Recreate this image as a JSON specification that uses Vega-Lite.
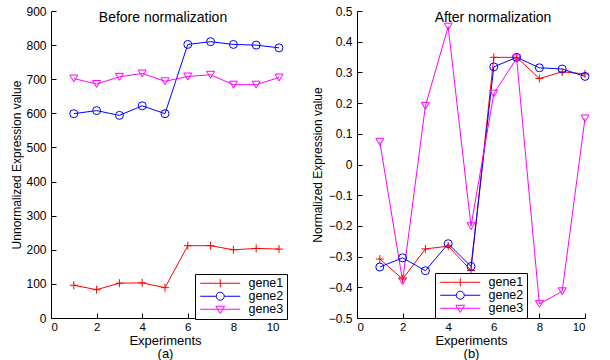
{
  "$schema": "https://vega.github.io/schema/vega-lite/v6.json",
  "background": "white",
  "padding": {"left": 10, "top": 5, "right": 5, "bottom": 0},
  "spacing": 23,
  "config": {
    "font": "Liberation Sans",
    "view": {"stroke": null},
    "axis": {
      "grid": false,
      "domainColor": "black",
      "tickColor": "black",
      "labelColor": "black",
      "titleColor": "black",
      "labelFontSize": 12,
      "titleFontWeight": "normal",
      "tickSize": -5,
      "labelPadding": 10
    },
    "title": {"fontWeight": "normal", "fontSize": 14, "color": "black"}
  },
  "datasets": {
    "before": [
      {"exp": 1, "gene": "gene1", "value": 96}, {"exp": 2, "gene": "gene1", "value": 83}, {"exp": 3, "gene": "gene1", "value": 102}, {"exp": 4, "gene": "gene1", "value": 103}, {"exp": 5, "gene": "gene1", "value": 89},
      {"exp": 6, "gene": "gene1", "value": 212}, {"exp": 7, "gene": "gene1", "value": 212}, {"exp": 8, "gene": "gene1", "value": 200}, {"exp": 9, "gene": "gene1", "value": 204}, {"exp": 10, "gene": "gene1", "value": 202},
      {"exp": 1, "gene": "gene2", "value": 599}, {"exp": 2, "gene": "gene2", "value": 608}, {"exp": 3, "gene": "gene2", "value": 594}, {"exp": 4, "gene": "gene2", "value": 622}, {"exp": 5, "gene": "gene2", "value": 599},
      {"exp": 6, "gene": "gene2", "value": 802}, {"exp": 7, "gene": "gene2", "value": 810}, {"exp": 8, "gene": "gene2", "value": 802}, {"exp": 9, "gene": "gene2", "value": 800}, {"exp": 10, "gene": "gene2", "value": 792},
      {"exp": 1, "gene": "gene3", "value": 702}, {"exp": 2, "gene": "gene3", "value": 686}, {"exp": 3, "gene": "gene3", "value": 707}, {"exp": 4, "gene": "gene3", "value": 717}, {"exp": 5, "gene": "gene3", "value": 694},
      {"exp": 6, "gene": "gene3", "value": 708}, {"exp": 7, "gene": "gene3", "value": 713}, {"exp": 8, "gene": "gene3", "value": 684}, {"exp": 9, "gene": "gene3", "value": 684}, {"exp": 10, "gene": "gene3", "value": 705}
    ],
    "after": [
      {"exp": 1, "gene": "gene1", "value": -0.308}, {"exp": 2, "gene": "gene1", "value": -0.373}, {"exp": 3, "gene": "gene1", "value": -0.275}, {"exp": 4, "gene": "gene1", "value": -0.266}, {"exp": 5, "gene": "gene1", "value": -0.345},
      {"exp": 6, "gene": "gene1", "value": 0.349}, {"exp": 7, "gene": "gene1", "value": 0.349}, {"exp": 8, "gene": "gene1", "value": 0.28}, {"exp": 9, "gene": "gene1", "value": 0.302}, {"exp": 10, "gene": "gene1", "value": 0.295},
      {"exp": 1, "gene": "gene2", "value": -0.334}, {"exp": 2, "gene": "gene2", "value": -0.304}, {"exp": 3, "gene": "gene2", "value": -0.346}, {"exp": 4, "gene": "gene2", "value": -0.258}, {"exp": 5, "gene": "gene2", "value": -0.332},
      {"exp": 6, "gene": "gene2", "value": 0.318}, {"exp": 7, "gene": "gene2", "value": 0.349}, {"exp": 8, "gene": "gene2", "value": 0.315}, {"exp": 9, "gene": "gene2", "value": 0.311}, {"exp": 10, "gene": "gene2", "value": 0.287},
      {"exp": 1, "gene": "gene3", "value": 0.074}, {"exp": 2, "gene": "gene3", "value": -0.38}, {"exp": 3, "gene": "gene3", "value": 0.191}, {"exp": 4, "gene": "gene3", "value": 0.449}, {"exp": 5, "gene": "gene3", "value": -0.201},
      {"exp": 6, "gene": "gene3", "value": 0.231}, {"exp": 7, "gene": "gene3", "value": 0.346}, {"exp": 8, "gene": "gene3", "value": -0.454}, {"exp": 9, "gene": "gene3", "value": -0.413}, {"exp": 10, "gene": "gene3", "value": 0.15}
    ]
  },
  "resolve": {"scale": {"color": "independent", "shape": "independent", "stroke": "independent"}, "legend": {"color": "independent", "shape": "independent", "stroke": "independent"}},
  "hconcat": [
    {
      "width": 228,
      "height": 307,
      "data": {"name": "before"},
      "title": {"text": "Before normalization", "offset": -20, "dx": -2},
      "resolve": {"scale": {"shape": "independent", "stroke": "independent"}, "legend": {"shape": "independent", "stroke": "independent"}},
      "encoding": {
        "x": {"field": "exp", "type": "quantitative", "scale": {"domain": [0, 10]}, "axis": {"values": [0, 2, 4, 6, 8, 10], "labelPadding": 8, "labelFontSize": 11.5, "title": ["Experiments", "(a)"], "titleFontSize": 13, "titleLineHeight": 13.5, "titlePadding": 1.5}},
        "y": {"field": "value", "type": "quantitative", "scale": {"domain": [0, 900]}, "axis": {"values": [0, 100, 200, 300, 400, 500, 600, 700, 800, 900], "title": "Unnormalized Expression value", "titleFontSize": 12, "titlePadding": 2}}
      },
      "layer": [
        {
          "mark": {"type": "line", "strokeWidth": 1},
          "encoding": {"color": {"field": "gene", "type": "nominal", "scale": {"domain": ["gene1", "gene2", "gene3"], "range": ["#ff0000", "#0000ff", "#ff00ff"]}, "legend": null}}
        },
        {
          "mark": {"type": "point", "filled": false, "strokeWidth": 1, "size": 64, "opacity": 1},
          "encoding": {
            "color": {"field": "gene", "type": "nominal", "scale": {"domain": ["gene1", "gene2", "gene3"], "range": ["#ff0000", "#0000ff", "#ff00ff"]}, "legend": null},
            "shape": {"field": "gene", "type": "nominal", "scale": {"domain": ["gene1", "gene2", "gene3"], "range": ["M-1,0H1M0,-1V1", "circle", "triangle-down"]}, "legend": null}
          }
        },
        {
          "transform": [{"filter": "false"}],
          "mark": {"type": "point", "filled": false, "strokeWidth": 1, "size": 64, "opacity": 1},
          "encoding": {
            "stroke": {"field": "gene", "type": "nominal", "scale": {"domain": ["gene1", "gene2", "gene3"], "range": ["#ff0000", "#0000ff", "#ff00ff"]},
              "legend": {"title": null, "orient": "none", "legendX": 144, "legendY": 263, "strokeColor": "black", "fillColor": "white", "padding": 3, "rowPadding": 0, "symbolOffset": 16, "labelOffset": 22, "labelFontSize": 12.5, "labelColor": "black", "symbolStrokeWidth": 1, "symbolSize": 64}},
            "shape": {"field": "gene", "type": "nominal", "scale": {"domain": ["gene1", "gene2", "gene3"], "range": ["M-5,0H5M0,-1V1", "M-5,0H-1M1,0H5M-1,0A1,1,0,1,1,1,0A1,1,0,1,1,-1,0", "M-5,0H5M-1.1,-0.75H1.1L0,1.05Z"]},
              "legend": {"title": null, "orient": "none", "legendX": 144, "legendY": 263, "strokeColor": "black", "fillColor": "white", "padding": 3, "rowPadding": 0, "symbolOffset": 16, "labelOffset": 22, "labelFontSize": 12.5, "labelColor": "black", "symbolStrokeWidth": 1, "symbolSize": 64}}
          }
        }
      ]
    },
    {
      "width": 228,
      "height": 307,
      "data": {"name": "after"},
      "title": {"text": "After normalization", "offset": -20, "dx": 22},
      "resolve": {"scale": {"shape": "independent", "stroke": "independent"}, "legend": {"shape": "independent", "stroke": "independent"}},
      "encoding": {
        "x": {"field": "exp", "type": "quantitative", "scale": {"domain": [0, 10]}, "axis": {"values": [0, 2, 4, 6, 8, 10], "labelPadding": 8, "labelFontSize": 11.5, "title": ["Experiments", "(b)"], "titleFontSize": 13, "titleLineHeight": 13.5, "titlePadding": 1.5}},
        "y": {"field": "value", "type": "quantitative", "scale": {"domain": [-0.5, 0.5]}, "axis": {"values": [-0.5, -0.4, -0.3, -0.2, -0.1, 0, 0.1, 0.2, 0.3, 0.4, 0.5], "format": "~g", "title": "Normalized Expression value", "titleFontSize": 12}}
      },
      "layer": [
        {
          "mark": {"type": "line", "strokeWidth": 1},
          "encoding": {"color": {"field": "gene", "type": "nominal", "scale": {"domain": ["gene1", "gene2", "gene3"], "range": ["#ff0000", "#0000ff", "#ff00ff"]}, "legend": null}}
        },
        {
          "mark": {"type": "point", "filled": false, "strokeWidth": 1, "size": 64, "opacity": 1},
          "encoding": {
            "color": {"field": "gene", "type": "nominal", "scale": {"domain": ["gene1", "gene2", "gene3"], "range": ["#ff0000", "#0000ff", "#ff00ff"]}, "legend": null},
            "shape": {"field": "gene", "type": "nominal", "scale": {"domain": ["gene1", "gene2", "gene3"], "range": ["M-1,0H1M0,-1V1", "circle", "triangle-down"]}, "legend": null}
          }
        },
        {
          "transform": [{"filter": "false"}],
          "mark": {"type": "point", "filled": false, "strokeWidth": 1, "size": 64, "opacity": 1},
          "encoding": {
            "stroke": {"field": "gene", "type": "nominal", "scale": {"domain": ["gene1", "gene2", "gene3"], "range": ["#ff0000", "#0000ff", "#ff00ff"]},
              "legend": {"title": null, "orient": "none", "legendX": 78, "legendY": 262, "strokeColor": "black", "fillColor": "white", "padding": 3, "rowPadding": 0, "symbolOffset": 16, "labelOffset": 22, "labelFontSize": 12.5, "labelColor": "black", "symbolStrokeWidth": 1, "symbolSize": 64}},
            "shape": {"field": "gene", "type": "nominal", "scale": {"domain": ["gene1", "gene2", "gene3"], "range": ["M-5,0H5M0,-1V1", "M-5,0H-1M1,0H5M-1,0A1,1,0,1,1,1,0A1,1,0,1,1,-1,0", "M-5,0H5M-1.1,-0.75H1.1L0,1.05Z"]},
              "legend": {"title": null, "orient": "none", "legendX": 78, "legendY": 262, "strokeColor": "black", "fillColor": "white", "padding": 3, "rowPadding": 0, "symbolOffset": 16, "labelOffset": 22, "labelFontSize": 12.5, "labelColor": "black", "symbolStrokeWidth": 1, "symbolSize": 64}}
          }
        }
      ]
    }
  ]
}
